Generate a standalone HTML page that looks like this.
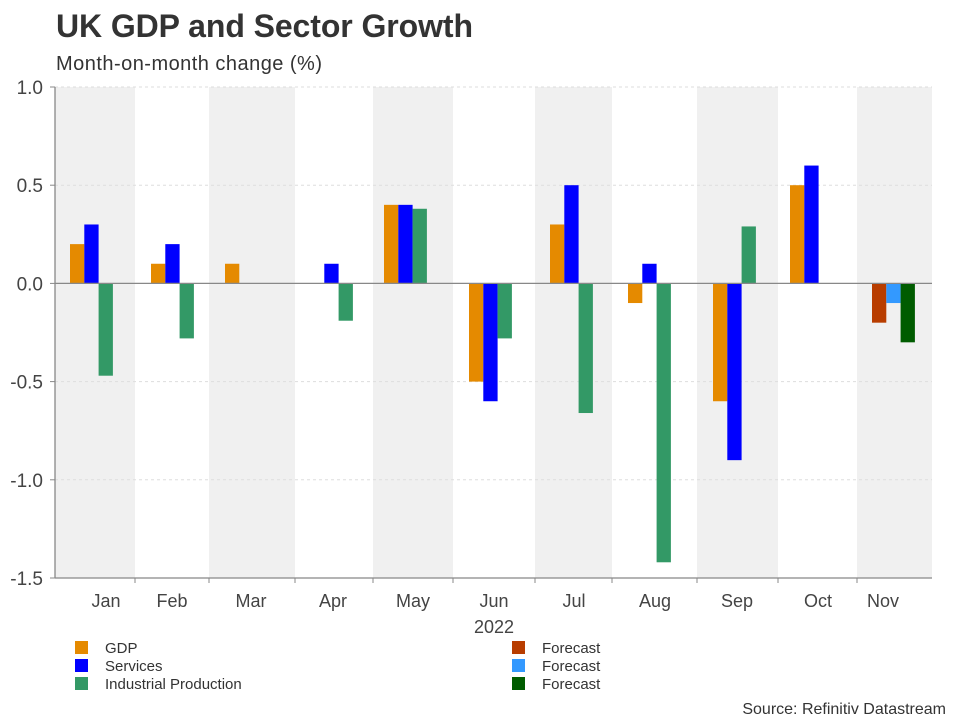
<!DOCTYPE html>
<html><head><meta charset="utf-8"><style>
body{margin:0;background:#fff;font-family:"Liberation Sans",Arial,sans-serif;}
svg text{font-family:"Liberation Sans",Arial,sans-serif;}
</style></head><body>
<svg id="chart" width="960" height="720">
<text x="56" y="37" font-size="32" font-weight="bold" fill="#333" textLength="417">UK GDP and Sector Growth</text>
<text x="56" y="70" font-size="20" fill="#333" textLength="266">Month-on-month change (%)</text>
<g id="bands"></g><g id="grid"></g><g id="bars"></g><g id="axes"></g><g id="legend"></g>
<text x="946" y="714" font-size="16" fill="#333" text-anchor="end">Source: Refinitiv Datastream</text>
</svg>
<script>
const months=["Jan","Feb","Mar","Apr","May","Jun","Jul","Aug","Sep","Oct","Nov"];
const gdp=[0.2,0.1,0.1,0,0.4,-0.5,0.3,-0.1,-0.6,0.5,null];
const services=[0.3,0.2,0,0.1,0.4,-0.6,0.5,0.1,-0.9,0.6,null];
const industrial=[-0.47,-0.28,0,-0.19,0.38,-0.28,-0.66,-1.42,0.29,0,null];
const gdpForecast=[null,null,null,null,null,null,null,null,null,null,-0.2];
const servicesForecast=[null,null,null,null,null,null,null,null,null,null,-0.1];
const industrialForecast=[null,null,null,null,null,null,null,null,null,null,-0.3];
const yTicks=[1.0,0.5,0.0,-0.5,-1.0,-1.5];
const yTickLabels=["1.0","0.5","0.0","-0.5","-1.0","-1.5"];

const NS="http://www.w3.org/2000/svg";
const L=55,R=932,T=87,B=578;
const y=v=>T+(1.0-v)*(B-T)/2.5;
const groupX=[70,151,225,310,384,469,550,628,713,790,872];
const x=i=>groupX[i];
const BW=14.3;
const bandEdges=[55,135,209,295,373,453,535,612,697,778,857,932];
const labelX=[106,172,251,333,413,494,574,655,737,818,883];
function mk(tag,attrs,parent){const e=document.createElementNS(NS,tag);for(const k in attrs)e.setAttribute(k,attrs[k]);parent.appendChild(e);return e;}
const bands=document.getElementById('bands');
for(let i=0;i<bandEdges.length-1;i++){
  if(i%2===0){const r=mk('rect',{x:bandEdges[i],y:T,width:bandEdges[i+1]-bandEdges[i],height:B-T,fill:'#f0f0f0'},bands);
  
  }
}
const grid=document.getElementById('grid');
yTicks.forEach((t,i)=>{
  if(t!==0&&t!==-1.5){const g=mk('line',{x1:L,x2:R,y1:y(t),y2:y(t),stroke:'#ddd','stroke-dasharray':'3,3'},grid);
  
  }
  const tx=mk('text',{x:43,y:y(t)+7,'font-size':19,fill:'#444','text-anchor':'end'},grid);
  tx.textContent=yTickLabels[i];
  
  
});
const bars=document.getElementById('bars');
const series=[[gdp,'#e58a00','gdp'],[services,'#0000ff','services'],[industrial,'#339966','industrial'],[gdpForecast,'#b83d00','gdp-forecast'],[servicesForecast,'#3399ff','services-forecast'],[industrialForecast,'#005c00','industrial-forecast']];
series.forEach(([vals,col,name],si)=>{
  vals.forEach((v,i)=>{
    if(v===null||v===0)return;
    const y0=y(Math.max(v,0)),h=Math.abs(y(v)-y(0));
    const r=mk('rect',{x:x(i)+(si%3)*BW,y:y0,width:BW,height:h,fill:col},bars);
    
    
  });
});
const axes=document.getElementById('axes');
let a=mk('line',{x1:L,x2:R,y1:y(0),y2:y(0),stroke:'#888','stroke-width':1.3},axes);

a=mk('line',{x1:L,x2:L,y1:T,y2:B,stroke:'#888','stroke-width':1.3},axes);

a=mk('line',{x1:L,x2:R,y1:B,y2:B,stroke:'#888','stroke-width':1.3},axes);

for(const t of yTicks){const tk=mk('line',{x1:L-5,x2:L,y1:y(t),y2:y(t),stroke:'#888'},axes);
}
for(let i=1;i<bandEdges.length-1;i++){const tk=mk('line',{x1:bandEdges[i],x2:bandEdges[i],y1:B,y2:B+5,stroke:'#888'},axes);
}
months.forEach((m,i)=>{const tx=mk('text',{x:labelX[i],y:607,'font-size':18,fill:'#444','text-anchor':'middle'},axes);
tx.textContent=m;});
const yr=mk('text',{x:494,y:633,'font-size':18,fill:'#444','text-anchor':'middle'},axes);
yr.textContent='2022';
const leg=document.getElementById('legend');
const items=[[75,648,'#e58a00','GDP'],[75,666,'#0000ff','Services'],[75,684,'#339966','Industrial Production'],[512,648,'#b83d00','Forecast'],[512,666,'#3399ff','Forecast'],[512,684,'#005c00','Forecast']];
items.forEach(([lx,ly,c,t])=>{
  const g=mk('g',{},leg);
  
  
  mk('rect',{x:lx,y:ly-7,width:13,height:13,fill:c},g);
  const tx=mk('text',{x:lx+30,y:ly+5,'font-size':15,fill:'#333'},g);tx.textContent=t;
});
</script>
</body></html>
